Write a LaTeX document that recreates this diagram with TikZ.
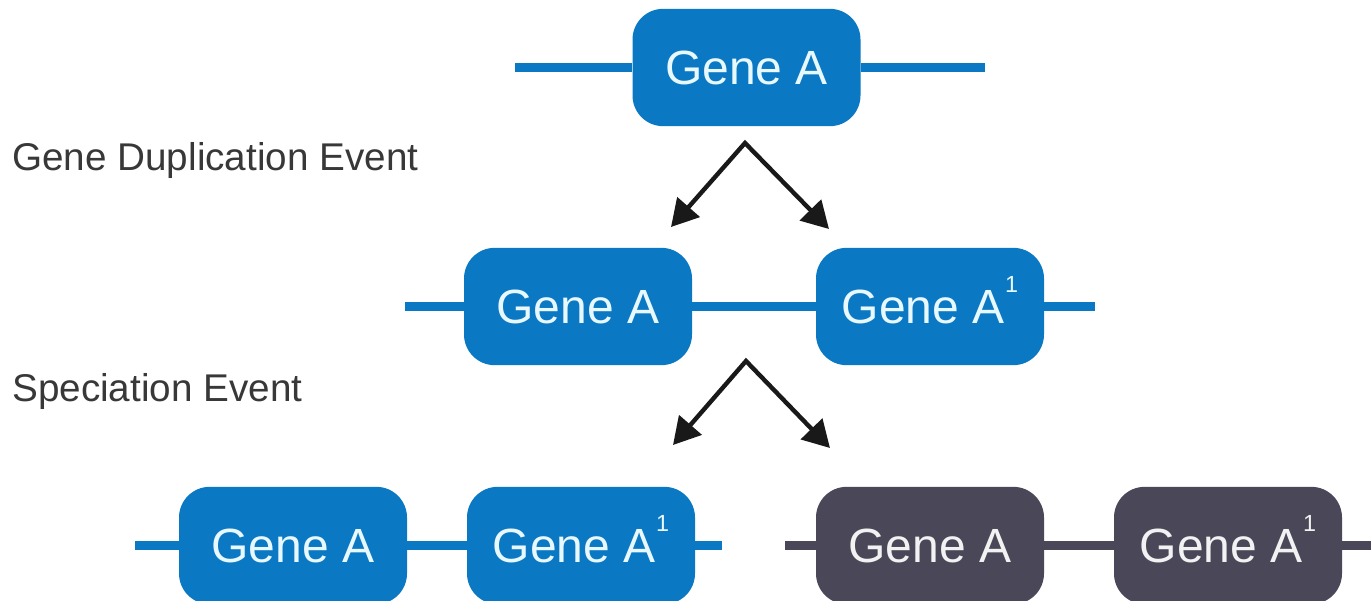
\documentclass[tikz,border=0pt]{standalone}
\usepackage{fontspec}
\setmainfont{Liberation Sans}
\usetikzlibrary{arrows.meta}

\definecolor{geneblue}{HTML}{0A78C2}
\definecolor{genedark}{HTML}{4A4759}
\definecolor{genetext}{HTML}{E8F8FF}
\definecolor{darktext}{HTML}{F2F2F2}
\definecolor{labelgray}{HTML}{383838}

% copy number written as a raised small "1" after the gene name
\newcommand{\copyone}{\kern0.5pt\smash{\raisebox{23pt}{\fontsize{17.5}{17.5}\selectfont 1}}}

\begin{document}
\begin{tikzpicture}[x=0.75pt,y=-0.75pt,
  genebox/.style={rounded corners=23pt, minimum width=171pt, minimum height=88pt,
    inner sep=0pt, font=\fontsize{36}{36}\selectfont},
  bluegene/.style={genebox, fill=geneblue, text=genetext},
  darkgene/.style={genebox, fill=genedark, text=darktext},
  strand/.style={line width=7pt},
  bluestrand/.style={strand, draw=geneblue},
  darkstrand/.style={strand, draw=genedark},
  split/.style={line width=3.3pt, draw=black!90, line join=miter,
    {Triangle[length=20pt,width=22pt]}-{Triangle[length=20pt,width=22pt]}},
  eventlabel/.style={anchor=base west, inner sep=0pt, text=labelgray,
    font=\fontsize{29}{29}\selectfont}]

\useasboundingbox (0,0) rectangle (1371,600);
\clip (0,0) rectangle (1371,600);
\fill[white] (0,0) rectangle (1371,600);

% ancestral gene
\coordinate (t0) at (515,67.5);
\coordinate (t1) at (985,67.5);
\node[bluegene] (top) at (746.5,67.5) {Gene A};
\draw[bluestrand] (t0) -- (top.west);
\draw[bluestrand] (top.east) -- (t1);

% duplication
\node[eventlabel] (dup) at (12,170) {Gene Duplication Event};
\coordinate (apexA) at (745,143);
\coordinate (tipAL) at (671,227);
\coordinate (tipAR) at (829,229);
\draw[split] (tipAL) -- (apexA) -- (tipAR);

% duplicated genes
\coordinate (m0) at (405,306.5);
\coordinate (m1) at (1095,306.5);
\node[bluegene] (ma) at (578,306.5) {Gene A};
\node[bluegene] (mb) at (930,306.5) {Gene A\copyone};
\draw[bluestrand] (m0) -- (ma.west);
\draw[bluestrand] (ma.east) -- (mb.west);
\draw[bluestrand] (mb.east) -- (m1);

% speciation
\node[eventlabel] (spec) at (12,401) {Speciation Event};
\coordinate (apexB) at (746,361);
\coordinate (tipBL) at (673,445);
\coordinate (tipBR) at (830,448);
\draw[split] (tipBL) -- (apexB) -- (tipBR);

% first species
\coordinate (b0) at (135,545.5);
\coordinate (b1) at (722,545.5);
\node[bluegene] (ba) at (293,545.5) {Gene A};
\node[bluegene] (bb) at (581,545.5) {Gene A\copyone};
\draw[bluestrand] (b0) -- (ba.west);
\draw[bluestrand] (ba.east) -- (bb.west);
\draw[bluestrand] (bb.east) -- (b1);

% second species
\coordinate (c0) at (785,545.5);
\coordinate (c1) at (1380,545.5);
\node[darkgene] (ca) at (930,545.5) {Gene A};
\node[darkgene] (cb) at (1228,545.5) {Gene A\copyone};
\draw[darkstrand] (c0) -- (ca.west);
\draw[darkstrand] (ca.east) -- (cb.west);
\draw[darkstrand] (cb.east) -- (c1);

\end{tikzpicture}
\end{document}
